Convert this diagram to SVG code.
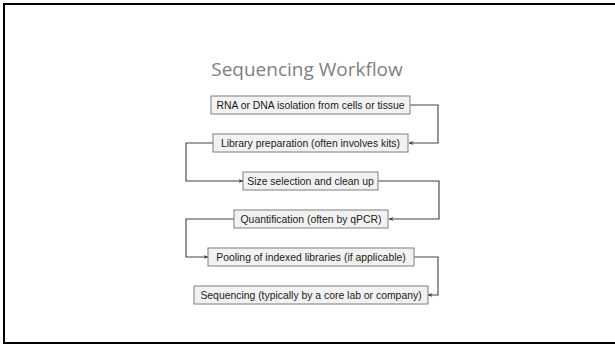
<svg xmlns="http://www.w3.org/2000/svg" width="615" height="345" viewBox="0 0 615 345">
<style>
.box{fill:#f2f2f2;stroke:#7f7f7f;stroke-width:1}
.lbl{font-family:"Liberation Sans",Arial,sans-serif;font-size:10.4px;fill:#1a1a1a;text-anchor:middle;dominant-baseline:central}
.con{fill:none;stroke:#404040;stroke-width:1.1;marker-end:url(#arr)}
.title{font-family:"Open Sans","Liberation Sans",sans-serif;font-size:19px;fill:#808080;text-anchor:middle}
</style>
<defs>
<marker id="arr" viewBox="0 0 10 10" refX="9" refY="5" markerWidth="5" markerHeight="5" orient="auto" markerUnits="userSpaceOnUse">
<path d="M0,1 L10,5 L0,9 L3,5 Z" fill="#404040"/>
</marker>
</defs>
<rect x="0" y="0" width="615" height="345" fill="#fff"/>
<rect x="4" y="4" width="625" height="339" fill="none" stroke="#000" stroke-width="2"/>
<text class="title" x="307" y="76">Sequencing Workflow</text>
<g id="connectors">
<path class="con" d="M410,105 H438 V143 H409"/>
<path class="con" d="M213,143 H186 V181 H243"/>
<path class="con" d="M378,181 H439 V219 H389"/>
<path class="con" d="M234,219 H186 V257 H208"/>
<path class="con" d="M414,257 H438 V295 H428"/>
</g>
<g id="n1"><rect class="box" x="211" y="96" width="199" height="18"/><text class="lbl" x="310.5" y="105">RNA or DNA isolation from cells or tissue</text></g>
<g id="n2"><rect class="box" x="213" y="134" width="195" height="18"/><text class="lbl" x="310.5" y="143">Library preparation (often involves kits)</text></g>
<g id="n3"><rect class="box" x="243" y="172" width="135" height="18"/><text class="lbl" x="310.5" y="181">Size selection and clean up</text></g>
<g id="n4"><rect class="box" x="234" y="210" width="154" height="18"/><text class="lbl" x="311" y="219">Quantification (often by qPCR)</text></g>
<g id="n5"><rect class="box" x="208" y="248" width="206" height="18"/><text class="lbl" x="311" y="257">Pooling of indexed libraries (if applicable)</text></g>
<g id="n6"><rect class="box" x="194" y="286" width="234" height="18"/><text class="lbl" x="311" y="295">Sequencing (typically by a core lab or company)</text></g>
</svg>
